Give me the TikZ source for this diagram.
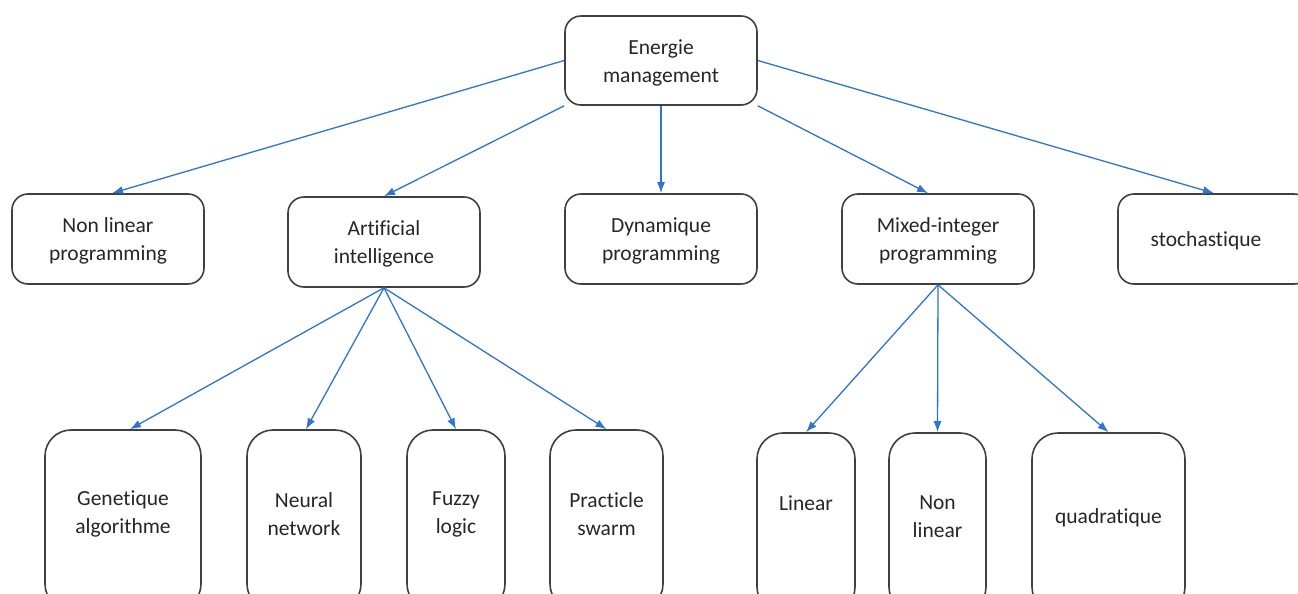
\documentclass[tikz,border=0pt]{standalone}
\usepackage{fontspec}
\setmainfont[Ligatures=NoCommon]{Carlito}
\usetikzlibrary{arrows.meta,calc}
\definecolor{boxgray}{HTML}{404040}
\definecolor{arrowblue}{HTML}{2F75CF}
\tikzset{
  box/.style={draw=boxgray, line width=1.6pt, rounded corners=16pt, fill=white,
    inner sep=0pt, minimum width=192pt, minimum height=90pt},
  tallbox/.style={box, rounded corners=26pt, minimum height=180pt},
  lbl/.style={align=center, font=\fontsize{21.5}{28}\selectfont, text=black!85},
  link/.style={draw=arrowblue, line width=1.3pt, -{Latex[length=11pt,width=8pt]}}
}
\begin{document}
\begin{tikzpicture}[x=1pt,y=-1pt]
\useasboundingbox (0,0) rectangle (1298,594);
\clip (0,0) rectangle (1298,594);
\fill[white] (0,0) rectangle (1298,594);
% top
\node[box, minimum height=89pt, label={[lbl, yshift=-2pt]center:Energie\\management}] (E) at (661,60.5) {};
% middle row
\node[box, label={[lbl, yshift=-2pt]center:Non linear\\programming}] (NLP) at (108,239) {};
\node[box, label={[lbl, yshift=-2pt]center:Artificial\\intelligence}] (AI) at (384,242) {};
\node[box, label={[lbl, yshift=-2pt]center:Dynamique\\programming}] (DP) at (661,239) {};
\node[box, label={[lbl, yshift=-2pt]center:Mixed-integer\\programming}] (MI) at (938,239) {};
\node[box, label={[lbl, xshift=-8pt, yshift=-2pt]center:stochastique}] (ST) at (1214,239) {};
% bottom row
\node[tallbox, minimum width=156pt, label={[lbl, yshift=6pt]center:Genetique\\algorithme}] (GA) at (123,520) {};
\node[tallbox, minimum width=114pt, label={[lbl, yshift=6pt]center:Neural\\network}] (NN) at (304,520) {};
\node[tallbox, minimum width=98pt, label={[lbl, yshift=6pt]center:Fuzzy\\logic}] (FL) at (456,520) {};
\node[tallbox, minimum width=113pt, label={[lbl, yshift=6pt]center:Practicle\\swarm}] (PS) at (606.5,520) {};
\node[tallbox, minimum width=98pt, label={[lbl, yshift=20pt]center:Linear}] (LI) at (806,523) {};
\node[tallbox, minimum width=97pt, label={[lbl, yshift=6pt]center:Non\\linear}] (NL) at (937.5,523) {};
\node[tallbox, minimum width=153pt, label={[lbl, yshift=5pt]center:quadratique}] (QU) at (1108.5,523) {};
% connectors
\draw[link] (E.west) -- ($(NLP.north)+(4,0)$);
\draw[link] (E.south west) -- (AI.north);
\draw[link] (E.south) -- (DP.north);
\draw[link] (E.south east) -- ($(MI.north)+(-10,0)$);
\draw[link] (E.east) -- (ST.north);
\draw[link] (AI.south) -- ($(GA.north)+(7,0)$);
\draw[link] (AI.south) -- ($(NN.north)+(2,0)$);
\draw[link] (AI.south) -- (FL.north);
\draw[link] (AI.south) -- (PS.north);
\draw[link] (MI.south) -- (LI.north);
\draw[link] (MI.south) -- (NL.north);
\draw[link] (MI.south) -- (QU.north);
\end{tikzpicture}
\end{document}
